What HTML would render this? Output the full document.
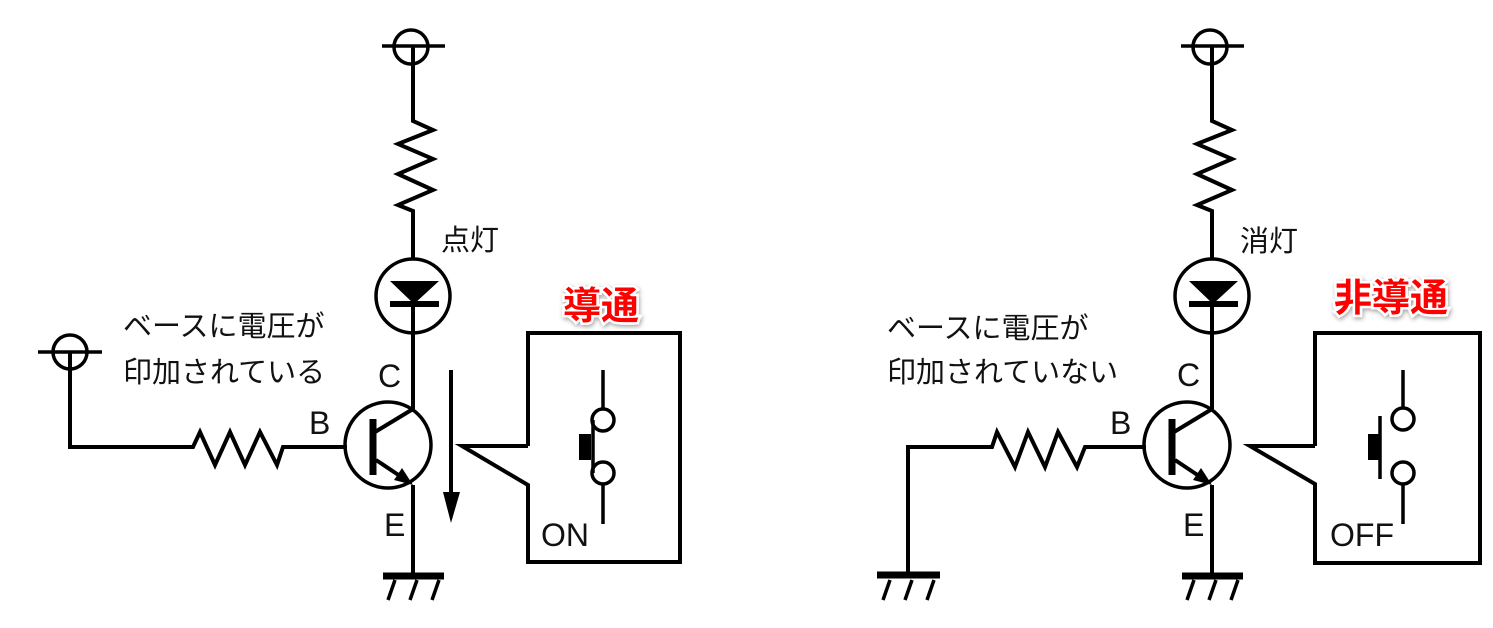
<!DOCTYPE html>
<html><head><meta charset="utf-8"><style>
html,body{margin:0;padding:0;background:#fff}
svg{display:block}
text{font-family:"Liberation Sans","Noto Sans CJK JP",sans-serif;fill:#111}
.red{fill:#f00;font-weight:bold;stroke:#fff;stroke-width:5;paint-order:stroke;font-family:"Liberation Sans","Noto Sans CJK JP",sans-serif}
</style></head><body>
<svg width="1493" height="628" viewBox="0 0 1493 628" xmlns="http://www.w3.org/2000/svg">
<defs>
<filter id="sh" x="-20%" y="-20%" width="140%" height="140%"><feDropShadow dx="1" dy="2" stdDeviation="2" flood-color="#000" flood-opacity="0.35"/></filter>
<g id="col" fill="none" stroke="#000" stroke-width="4">
 <circle cx="411" cy="47" r="17" stroke-width="3.5"/>
 <line x1="382" y1="46" x2="445" y2="46" stroke-width="3.5"/>
 <polyline points="413,47 413,121 433,130 398,144 433,159 398,174 433,190 398,205 413,211 413,259"/>
 <circle cx="413" cy="296" r="37" stroke-width="3.5"/>
 <polygon points="390,281 439,281 414,304" fill="#000" stroke="none"/>
 <line x1="390" y1="304" x2="439" y2="304" stroke-width="6"/>
 <line x1="413" y1="304" x2="413" y2="409"/>
 <circle cx="388" cy="445" r="43" stroke-width="3.5"/>
 <line x1="373" y1="419" x2="373" y2="475" stroke-width="7"/>
 <line x1="375" y1="432" x2="413" y2="409"/>
 <line x1="376" y1="460" x2="406" y2="480"/>
 <polygon points="413,485 394,480 402,468" fill="#000" stroke="none"/>
 <line x1="413" y1="485" x2="413" y2="575"/>
 <line x1="383" y1="576" x2="444" y2="576" stroke-width="7"/>
 <line x1="395" y1="580" x2="388" y2="600" stroke-width="3.5"/>
 <line x1="417" y1="580" x2="410" y2="600" stroke-width="3.5"/>
 <line x1="439" y1="580" x2="432" y2="600" stroke-width="3.5"/>
</g>
</defs>
<use href="#col"/>
<use href="#col" transform="translate(799,0)"/>

<g fill="none" stroke="#000" stroke-width="4">
 <circle cx="70" cy="352" r="17" stroke-width="3.5"/>
 <line x1="38" y1="352" x2="102" y2="352" stroke-width="3.5"/>
 <polyline points="70,352 70,447 193,447 200,432 215,465 230,432 245,465 260,432 277,465 283,447 347,447"/>
 <line x1="451" y1="370" x2="451" y2="495"/>
 <polygon points="443,492 460,492 451,523" fill="#000" stroke="none"/>
 <polyline points="528,446 528,333 680,333 680,562 528,562 528,485 462,446 528,446"/>
 <line x1="603" y1="370" x2="603" y2="409" stroke-width="3.5"/>
 <circle cx="603" cy="420" r="11" stroke-width="3.5"/>
 <circle cx="603" cy="473" r="11" stroke-width="3.5"/>
 <line x1="603" y1="484" x2="603" y2="524" stroke-width="3.5"/>
 <line x1="593" y1="420" x2="593" y2="473" stroke-width="3.5"/>
 <rect x="579" y="434" width="12" height="26" fill="#000" stroke="none"/>
 <polyline points="1146,447 1085,447 1077,467 1058,432 1045,467 1028,432 1015,467 997,432 992,447 908,447 908,573"/>
 <line x1="877" y1="575" x2="940" y2="575" stroke-width="7"/>
 <line x1="890" y1="580" x2="883" y2="600" stroke-width="3.5"/>
 <line x1="912" y1="580" x2="905" y2="600" stroke-width="3.5"/>
 <line x1="934" y1="580" x2="927" y2="600" stroke-width="3.5"/>
 <polyline points="1315,446 1315,333 1480,333 1480,563 1315,563 1315,484 1250,446 1315,446"/>
 <line x1="1403" y1="370" x2="1403" y2="408" stroke-width="3.5"/>
 <circle cx="1403" cy="419" r="11" stroke-width="3.5"/>
 <circle cx="1403" cy="473" r="11" stroke-width="3.5"/>
 <line x1="1403" y1="484" x2="1403" y2="524" stroke-width="3.5"/>
 <line x1="1380" y1="416" x2="1380" y2="479" stroke-width="3.5"/>
 <rect x="1368" y="434" width="11" height="26" fill="#000" stroke="none"/>
</g>

<g font-size="29">
 <text x="123" y="336">ベースに電圧が</text>
 <text x="123" y="382">印加されている</text>
 <text x="887" y="338">ベースに電圧が</text>
 <text x="887" y="382">印加されていない</text>
 <text x="441" y="250">点灯</text>
 <text x="1240" y="251">消灯</text>
</g>
<g font-size="32">
 <text x="309" y="434">B</text>
 <text x="1110" y="434">B</text>
 <text x="378" y="387">C</text>
 <text x="1177" y="386">C</text>
 <text x="384" y="536">E</text>
 <text x="1183" y="536">E</text>
 <text x="541" y="546">ON</text>
 <text x="1330" y="546">OFF</text>
</g>
<g filter="url(#sh)" font-size="38">
 <text class="red" x="563" y="319">導通</text>
 <text class="red" x="1334" y="311">非導通</text>
</g>
</svg>
</body></html>
